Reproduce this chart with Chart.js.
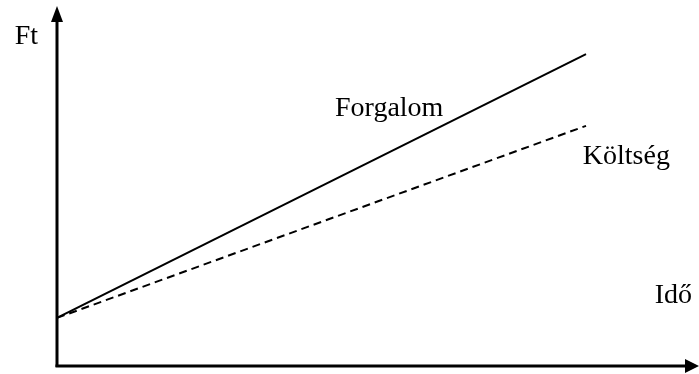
<!DOCTYPE html>
<html>
<head>
<meta charset="utf-8">
<script src="https://cdn.jsdelivr.net/npm/chart.js@4"></script>
<style>
  body { margin: 0; background: #fff; }
</style>
</head>
<body>
<canvas id="myChart" width="699" height="374"></canvas>
<script>
const time = [0, 82.4];
const revenue = [13.4, 86.9];
const cost = [13.4, 66.9];
const labelNames = ['Forgalom', 'Költség', 'Idő'];
const labelX = [43.3, 81.9, 93.1];
const labelY = [69.6, 56.3, 17.5];
const yTitle = 'Ft';

const toPoints = (xs, ys) => xs.map((x, i) => ({x: x, y: ys[i]}));

const axesPlugin = {
    id: 'axesPlugin',
    afterDraw(chart) {
        const c = chart.ctx;
        const a = chart.chartArea;
        const xs = chart.scales.x;
        const ys = chart.scales.y;
        c.save();
        c.strokeStyle = '#000';
        c.fillStyle = '#000';
        c.lineWidth = 3;
        // y axis
        c.beginPath();
        c.moveTo(a.left, a.bottom + 1);
        c.lineTo(a.left, a.top + 10);
        c.stroke();
        c.beginPath();
        c.moveTo(a.left, a.top - 1);
        c.lineTo(a.left - 6, a.top + 15);
        c.lineTo(a.left + 6, a.top + 15);
        c.closePath();
        c.fill();
        // x axis
        c.beginPath();
        c.moveTo(a.left - 1.5, a.bottom);
        c.lineTo(a.right - 10, a.bottom);
        c.stroke();
        c.beginPath();
        c.moveTo(a.right, a.bottom);
        c.lineTo(a.right - 14, a.bottom - 7);
        c.lineTo(a.right - 14, a.bottom + 7);
        c.closePath();
        c.fill();
        // texts
        c.font = '28px "Liberation Serif", "Times New Roman", serif';
        c.textBaseline = 'alphabetic';
        c.textAlign = 'left';
        labelNames.forEach((t, i) => {
            c.fillText(t, xs.getPixelForValue(labelX[i]), ys.getPixelForValue(labelY[i]));
        });
        c.textAlign = 'right';
        c.fillText(yTitle, a.left - 19, ys.getPixelForValue(89.7));
        c.restore();
    }
};

const ctx = document.getElementById('myChart').getContext('2d');

new Chart(ctx, {
    type: 'scatter',
    data: {
        datasets: [{
            label: 'Forgalom',
            data: toPoints(time, revenue),
            showLine: true,
            borderColor: '#000',
            borderWidth: 2,
            pointRadius: 0,
            fill: false
        }, {
            label: 'Költség',
            data: toPoints(time, cost),
            showLine: true,
            borderColor: '#000',
            borderWidth: 2,
            borderDash: [8, 5],
            pointRadius: 0,
            fill: false
        }]
    },
    options: {
        responsive: false,
        maintainAspectRatio: false,
        animation: false,
        devicePixelRatio: 1,
        layout: {
            padding: {left: 57, top: 7, right: 0, bottom: 8}
        },
        scales: {
            x: {display: false, min: 0, max: 100},
            y: {display: false, min: 0, max: 100}
        },
        plugins: {
            legend: {display: false},
            tooltip: {enabled: false}
        }
    },
    plugins: [axesPlugin]
});
</script>
</body>
</html>
